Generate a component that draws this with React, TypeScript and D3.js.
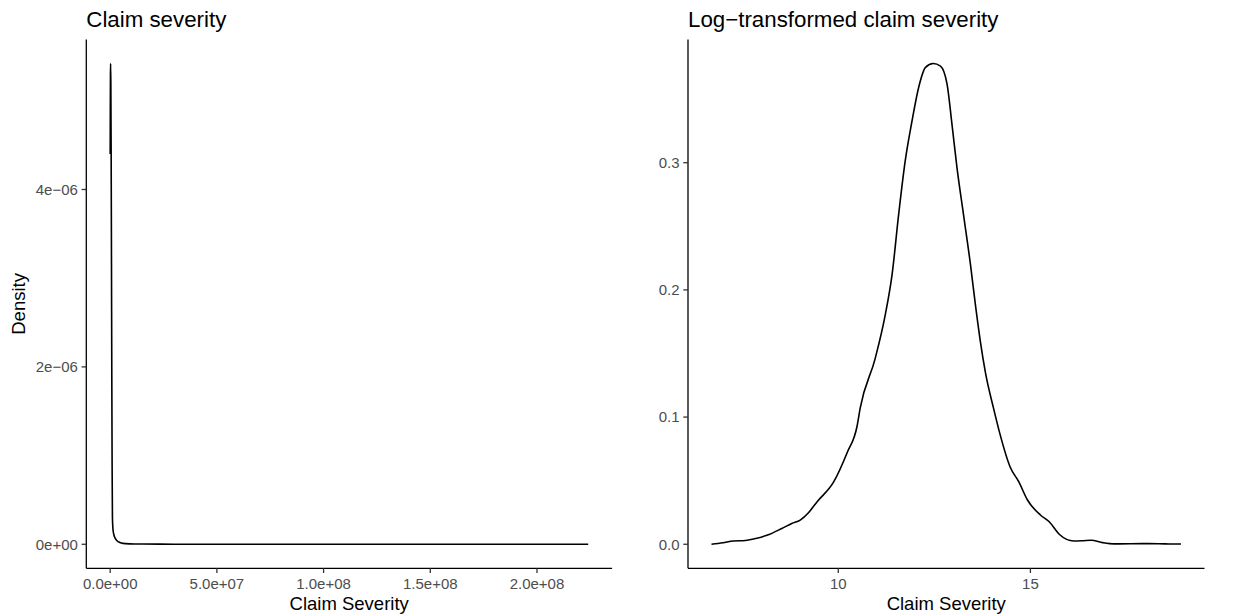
import React from 'react';
import * as d3 from 'd3';

// ---- data ----
const severityX = [1e3, 5e4, 1.2e5, 2e5, 3e5, 4.5e5, 6e5, 7.5e5, 9e5, 1.05e6, 1.3e6, 1.7e6, 2.3e6, 3.2e6, 4.5e6, 6e6, 9e6, 1.5e7, 3e7, 6e7, 1.2e8, 2.24e8];
const severityDensity = [4.4e-6, 4.9e-6, 5.3e-6, 5.42e-6, 5.2e-6, 4.4e-6, 3.2e-6, 1.9e-6, 0.9e-6, 0.3e-6, 0.17e-6, 0.11e-6, 0.07e-6, 0.04e-6, 0.02e-6, 0.01e-6, 0.005e-6, 0.0025e-6, 0.001e-6, 0.0005e-6, 0.0002e-6, 0.0001e-6];

const logSeverityX = [6.7, 7.0, 7.27, 7.58, 7.85, 8.14, 8.53, 8.79, 9.01, 9.23, 9.45, 9.88, 10.23, 10.49, 10.57, 10.96, 11.22, 11.4, 11.57, 11.74, 11.92, 12.09, 12.27, 12.47, 12.66, 12.83, 12.96, 13.09, 13.26, 13.44, 13.57, 13.7, 13.83, 14.04, 14.2, 14.47, 14.7, 14.92, 15.26, 15.49, 15.75, 16.13, 16.35, 16.58, 16.88, 17.18, 17.6, 18.08, 18.5, 18.92];
const logSeverityDensity = [0.0, 0.0012, 0.0026, 0.003, 0.0045, 0.007, 0.0124, 0.0164, 0.019, 0.025, 0.0335, 0.049, 0.072, 0.093, 0.107, 0.146, 0.18, 0.212, 0.259, 0.301, 0.333, 0.359, 0.375, 0.378, 0.376, 0.362, 0.33, 0.296, 0.259, 0.22, 0.188, 0.159, 0.135, 0.107, 0.0876, 0.061, 0.049, 0.035, 0.023, 0.0177, 0.0079, 0.0026, 0.0028, 0.0032, 0.0013, 0.0003, 0.0004, 0.0005, 0.0003, 0.0002];

const leftXTicks = [0, 5e7, 1e8, 1.5e8, 2e8];
const leftXTickLabels = ['0.0e+00', '5.0e+07', '1.0e+08', '1.5e+08', '2.0e+08'];
const leftYTicks = [0, 2e-6, 4e-6];
const leftYTickLabels = ['0e+00', '2e\u221206', '4e\u221206'];

const rightXTicks = [10, 15];
const rightXTickLabels = ['10', '15'];
const rightYTicks = [0, 0.1, 0.2, 0.3];
const rightYTickLabels = ['0.0', '0.1', '0.2', '0.3'];

const FONT = "'Liberation Sans', Arial, Helvetica, sans-serif";

function expand(vals: number[]): [number, number] {
  const [lo, hi] = d3.extent(vals) as [number, number];
  const pad = (hi - lo) * 0.05;
  return [lo - pad, hi + pad];
}

type PanelProps = {
  x0: number; x1: number; y0: number; y1: number;
  xs: number[]; ys: number[];
  xTicks: number[]; xTickLabels: string[];
  yTicks: number[]; yTickLabels: string[];
  title: string; xTitle: string; yTitle?: string;
  yTitleX?: number;
};

function Panel(p: PanelProps) {
  const x = d3.scaleLinear().domain(expand(p.xs)).range([p.x0, p.x1]);
  const y = d3.scaleLinear().domain(expand(p.ys)).range([p.y1, p.y0]);
  const pts: [number, number][] = p.xs.map((v, i) => [v, p.ys[i]]);
  const line = d3.line<[number, number]>()
    .x(d => x(d[0]))
    .y(d => y(d[1]))
    .curve(d3.curveMonotoneX);
  const tickLen = 4.7;
  return (
    <g>
      <text x={p.x0} y={26.5} fontFamily={FONT} fontSize={22.3} fill="#000">{p.title}</text>
      <path d={line(pts) || ''} fill="none" stroke="#000" strokeWidth={1.6} strokeLinejoin="round" />
      <line x1={p.x0} x2={p.x1} y1={p.y1} y2={p.y1} stroke="#000" strokeWidth={1.3} />
      <line x1={p.x0} x2={p.x0} y1={p.y0} y2={p.y1} stroke="#000" strokeWidth={1.3} />
      {p.xTicks.map((t, i) => (
        <g key={'xt' + i}>
          <line x1={x(t)} x2={x(t)} y1={p.y1} y2={p.y1 + tickLen} stroke="#333333" strokeWidth={1.3} />
          <text x={x(t)} y={589} textAnchor="middle" fontFamily={FONT} fontSize={15} fill="#4D4D4D">{p.xTickLabels[i]}</text>
        </g>
      ))}
      {p.yTicks.map((t, i) => (
        <g key={'yt' + i}>
          <line x1={p.x0 - tickLen} x2={p.x0} y1={y(t)} y2={y(t)} stroke="#333333" strokeWidth={1.3} />
          <text x={p.x0 - 8.4} y={y(t)} dy="0.36em" textAnchor="end" fontFamily={FONT} fontSize={15} fill="#4D4D4D">{p.yTickLabels[i]}</text>
        </g>
      ))}
      <text x={(p.x0 + p.x1) / 2} y={609.5} textAnchor="middle" fontFamily={FONT} fontSize={18.5} fill="#000">{p.xTitle}</text>
      {p.yTitle ? (
        <text transform={`translate(${p.yTitleX},${(p.y0 + p.y1) / 2}) rotate(-90)`} textAnchor="middle" fontFamily={FONT} fontSize={18.5} fill="#000">{p.yTitle}</text>
      ) : null}
    </g>
  );
}

export default function App() {
  return (
    <svg width={1239} height={615} style={{ position: 'absolute', left: 0, top: 0, background: '#fff' }}>
      <rect x={0} y={0} width={1239} height={615} fill="#fff" />
      <Panel x0={86.3} x1={612.1} y0={39.5} y1={568.3}
        xs={severityX} ys={severityDensity}
        xTicks={leftXTicks} xTickLabels={leftXTickLabels}
        yTicks={leftYTicks} yTickLabels={leftYTickLabels}
        title="Claim severity" xTitle="Claim Severity" yTitle="Density" yTitleX={24.5} />
      <Panel x0={688} x1={1204.5} y0={39.5} y1={568.3}
        xs={logSeverityX} ys={logSeverityDensity}
        xTicks={rightXTicks} xTickLabels={rightXTickLabels}
        yTicks={rightYTicks} yTickLabels={rightYTickLabels}
        title={'Log\u2212transformed claim severity'} xTitle="Claim Severity" />
    </svg>
  );
}
